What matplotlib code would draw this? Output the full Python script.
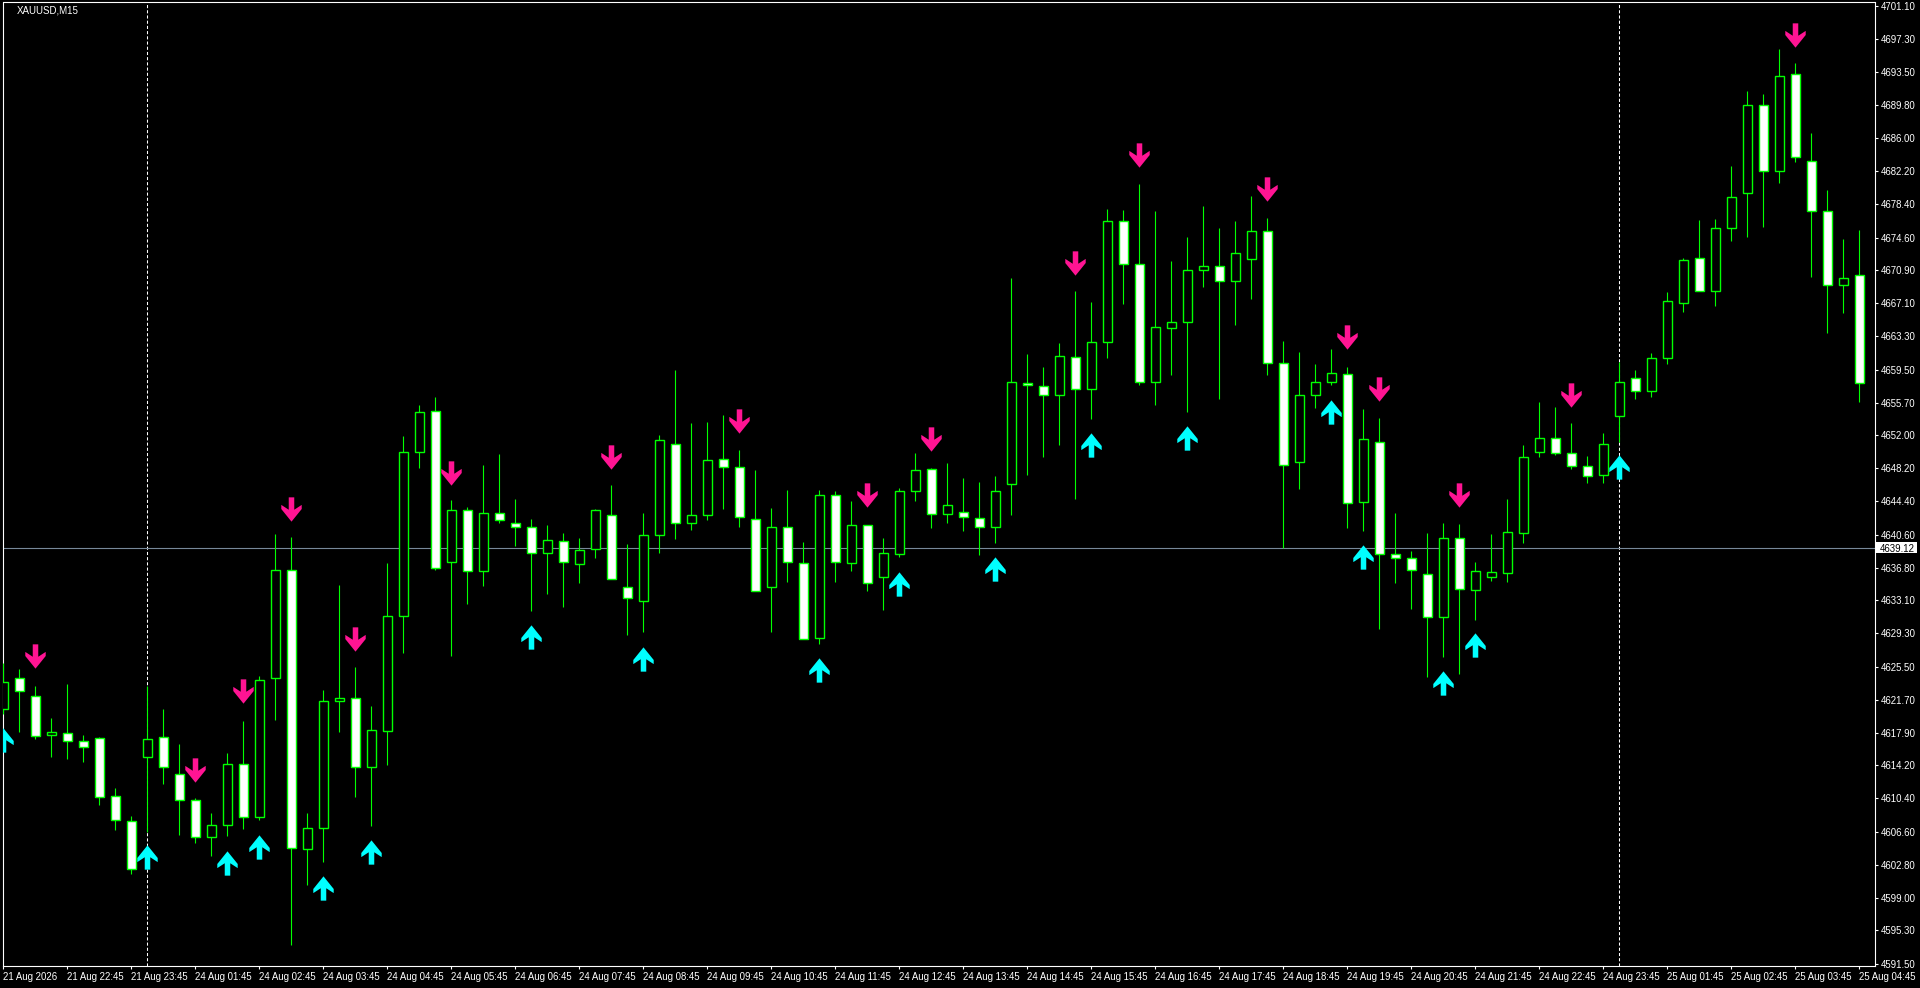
import matplotlib
matplotlib.use('Agg')
import matplotlib.pyplot as plt
import matplotlib.transforms as mtransforms
from matplotlib.path import Path
from matplotlib.patches import Rectangle

plt.rcParams['font.family'] = ['Liberation Sans', 'DejaVu Sans']

symbol = 'XAUUSD,M15'

# M15 candles, bar 0 = 21 Aug 21:45 ... bar 116 = 25 Aug 04:45
opens = [4620.61, 4624.16, 4622.16, 4617.62, 4617.87, 4616.93, 4617.29, 4610.63, 4607.77, 4615.13,
         4617.38, 4613.16, 4610.18, 4605.97, 4607.32, 4614.31, 4608.26, 4624.16, 4636.51, 4604.66,
         4606.99, 4621.50, 4621.87, 4613.98, 4618.07, 4631.24, 4650.00, 4654.78, 4637.41, 4643.46,
         4636.40, 4643.12, 4641.97, 4641.44, 4638.46, 4639.83, 4637.28, 4638.92, 4642.81, 4634.65,
         4632.97, 4640.52, 4650.94, 4641.97, 4642.89, 4649.30, 4648.38, 4642.43, 4634.57, 4641.44,
         4637.32, 4628.73, 4645.10, 4637.32, 4641.67, 4635.71, 4638.35, 4645.56, 4648.08, 4642.92,
         4643.23, 4642.54, 4641.44, 4646.36, 4657.99, 4657.65, 4656.54, 4660.89, 4657.23, 4662.61,
         4676.46, 4671.54, 4658.03, 4664.21, 4664.90, 4670.85, 4671.39, 4669.59, 4672.11, 4675.32,
         4660.21, 4648.88, 4656.54, 4658.03, 4658.95, 4644.30, 4651.17, 4638.35, 4637.89, 4636.06,
         4631.21, 4640.18, 4634.30, 4635.71, 4636.17, 4640.75, 4650.02, 4651.63, 4649.91, 4648.42,
         4647.39, 4654.14, 4658.49, 4657.00, 4660.78, 4667.08, 4672.23, 4668.45, 4675.66, 4679.67,
         4689.74, 4682.19, 4693.29, 4683.33, 4677.61, 4669.14, 4670.28]
highs = [4625.96, 4625.23, 4623.30, 4619.62, 4623.51, 4617.66, 4617.42, 4611.57, 4608.38, 4623.30,
         4620.65, 4616.64, 4610.43, 4608.79, 4615.62, 4619.26, 4624.41, 4640.68, 4640.31, 4608.79,
         4622.81, 4634.83, 4625.43, 4620.97, 4637.37, 4651.92, 4655.40, 4656.39, 4644.56, 4643.75,
         4648.57, 4649.83, 4644.68, 4642.39, 4641.70, 4640.79, 4640.22, 4643.50, 4646.28, 4639.53,
         4643.08, 4652.00, 4659.45, 4653.38, 4653.49, 4654.29, 4650.29, 4648.00, 4643.65, 4645.71,
         4639.76, 4645.71, 4645.60, 4644.45, 4641.67, 4640.22, 4645.94, 4649.95, 4648.27, 4648.80,
         4647.08, 4646.62, 4647.31, 4669.97, 4661.28, 4659.79, 4662.54, 4668.49, 4667.19, 4677.87,
         4677.76, 4680.73, 4677.64, 4671.92, 4674.67, 4678.22, 4675.70, 4676.50, 4679.36, 4676.84,
         4662.73, 4661.50, 4660.13, 4661.81, 4659.75, 4654.98, 4653.95, 4643.04, 4638.70, 4640.79,
         4641.93, 4641.82, 4637.47, 4640.67, 4644.68, 4650.82, 4655.74, 4655.17, 4653.34, 4649.56,
         4652.20, 4660.32, 4659.45, 4661.39, 4668.38, 4672.27, 4676.62, 4676.73, 4682.80, 4691.38,
         4691.04, 4696.19, 4694.59, 4686.54, 4680.01, 4674.44, 4675.47]
lows = [4620.11, 4618.00, 4617.25, 4615.13, 4614.97, 4614.52, 4609.69, 4606.83, 4601.80, 4606.54,
        4612.06, 4606.26, 4605.32, 4603.84, 4606.05, 4606.95, 4607.97, 4619.42, 4593.66, 4600.53,
        4603.15, 4617.99, 4610.51, 4607.28, 4614.27, 4627.06, 4648.24, 4636.59, 4626.74, 4632.71,
        4634.72, 4641.97, 4639.34, 4631.90, 4633.81, 4632.32, 4635.10, 4637.96, 4635.48, 4629.11,
        4629.50, 4638.54, 4640.14, 4641.17, 4642.31, 4643.54, 4641.51, 4634.11, 4629.50, 4635.22,
        4628.62, 4628.12, 4635.22, 4636.48, 4634.19, 4632.01, 4638.08, 4644.49, 4641.40, 4641.97,
        4641.05, 4638.31, 4639.68, 4642.89, 4647.46, 4649.52, 4650.90, 4644.72, 4653.87, 4660.86,
        4667.04, 4657.69, 4655.48, 4658.91, 4654.68, 4668.98, 4656.16, 4664.63, 4667.61, 4658.91,
        4639.07, 4645.86, 4655.13, 4657.77, 4641.40, 4641.05, 4629.76, 4635.03, 4632.10, 4624.34,
        4626.63, 4624.69, 4630.83, 4635.33, 4635.22, 4639.68, 4649.45, 4649.76, 4648.08, 4646.47,
        4646.47, 4651.17, 4656.09, 4656.39, 4660.17, 4666.09, 4668.45, 4666.81, 4674.25, 4674.71,
        4675.86, 4680.89, 4683.29, 4670.13, 4663.72, 4666.01, 4655.82]
closes = [4623.71, 4622.65, 4617.50, 4617.95, 4616.93, 4616.27, 4610.55, 4607.89, 4602.33, 4617.17,
          4613.98, 4610.18, 4605.97, 4607.32, 4614.31, 4608.26, 4623.92, 4636.51, 4604.74, 4606.99,
          4621.50, 4621.87, 4613.98, 4618.19, 4631.24, 4650.00, 4654.58, 4636.80, 4643.46, 4636.39,
          4643.04, 4642.24, 4641.44, 4638.46, 4639.95, 4637.43, 4638.80, 4643.38, 4635.48, 4633.31,
          4640.52, 4651.40, 4641.89, 4642.89, 4649.11, 4648.30, 4642.58, 4634.11, 4641.44, 4637.43,
          4628.62, 4645.10, 4637.43, 4641.67, 4635.03, 4638.46, 4645.56, 4647.96, 4642.93, 4643.95,
          4642.58, 4641.44, 4645.56, 4658.03, 4657.69, 4656.54, 4661.01, 4657.23, 4662.61, 4676.46,
          4671.54, 4658.03, 4664.33, 4664.90, 4670.85, 4671.31, 4669.59, 4672.80, 4675.32, 4660.21,
          4648.53, 4656.54, 4658.03, 4659.06, 4644.18, 4651.51, 4638.35, 4637.89, 4636.50, 4631.21,
          4640.18, 4634.42, 4636.40, 4636.29, 4640.86, 4649.45, 4651.63, 4649.91, 4648.42, 4647.27,
          4650.94, 4658.03, 4657.00, 4660.78, 4667.31, 4672.04, 4668.45, 4675.66, 4679.21, 4689.74,
          4682.19, 4693.06, 4683.79, 4677.61, 4669.14, 4669.94, 4657.92]

# indicator arrows (bar index, price level of arrow centre)
sell_bars = [2, 12, 15, 18, 22, 28, 38, 46, 54, 58, 67, 71, 79, 84, 86, 91, 98, 112]
sell_levels = [4626.66, 4613.70, 4622.65, 4643.58, 4628.70, 4647.60, 4649.53, 4653.57, 4645.10,
               4651.51, 4671.73, 4684.09, 4680.12, 4663.18, 4657.23, 4645.10, 4656.62, 4697.83]
buy_bars = [0, 9, 14, 16, 20, 23, 33, 40, 51, 56, 62, 68, 74, 83, 85, 90, 92, 101]
buy_levels = [4617.13, 4603.64, 4603.03, 4604.87, 4600.17, 4604.25, 4628.85, 4626.40, 4625.07,
              4634.99, 4636.71, 4650.82, 4651.70, 4654.67, 4638.08, 4623.58, 4627.93, 4648.38]

bid = 4639.12
day_separators = [9, 101]

price_ticks = [4701.10, 4697.30, 4693.50, 4689.80, 4686.00, 4682.20, 4678.40, 4674.60, 4670.90,
               4667.10, 4663.30, 4659.50, 4655.70, 4652.00, 4648.20, 4644.40, 4640.60, 4636.80,
               4633.10, 4629.30, 4625.50, 4621.70, 4617.90, 4614.20, 4610.40, 4606.60, 4602.80,
               4599.00, 4595.30, 4591.50]
time_labels = ['21 Aug 2026', '21 Aug 22:45', '21 Aug 23:45', '24 Aug 01:45', '24 Aug 02:45',
               '24 Aug 03:45', '24 Aug 04:45', '24 Aug 05:45', '24 Aug 06:45', '24 Aug 07:45',
               '24 Aug 08:45', '24 Aug 09:45', '24 Aug 10:45', '24 Aug 11:45', '24 Aug 12:45',
               '24 Aug 13:45', '24 Aug 14:45', '24 Aug 15:45', '24 Aug 16:45', '24 Aug 17:45',
               '24 Aug 18:45', '24 Aug 19:45', '24 Aug 20:45', '24 Aug 21:45', '24 Aug 22:45',
               '24 Aug 23:45', '25 Aug 01:45', '25 Aug 02:45', '25 Aug 03:45', '25 Aug 04:45']
time_label_bars = list(range(0, len(opens), 4))

GREEN = '#00ff00'

# arrow glyphs, like the wingdings arrows mt4 uses
sx = 0.84
down_verts = [(-0.27 * sx, 1), (0.27 * sx, 1), (0.27 * sx, -0.02), (1 * sx, 0.38), (1 * sx, 0.04),
              (0, -1), (-1 * sx, 0.04), (-1 * sx, 0.38), (-0.27 * sx, -0.02), (-0.27 * sx, 1)]
down_arrow = Path(down_verts, closed=True)
up_arrow = Path([(x, -y) for x, y in down_verts], closed=True)

fig = plt.figure(figsize=(19.2, 9.88), dpi=100, facecolor='black')
W, H = 1920.0, 988.0
left, right, top, bottom = 2.7, 1875.0, 2.5, 966.0
ax = fig.add_axes([left / W, 1 - bottom / H, (right - left) / W, (bottom - top) / H])
ax.set_facecolor('black')
ax.set_xlim(-0.0375, 116.98)
ax.set_ylim(4591.22, 4701.51)

n = len(opens)
xs = list(range(n))

# candles: wicks first, then bodies (white = bearish, black = bullish)
ax.vlines(xs, lows, highs, colors=GREEN, linewidth=0.8, zorder=3)
bottoms = [min(o, c) for o, c in zip(opens, closes)]
heights = [abs(c - o) for o, c in zip(opens, closes)]
fills = ['white' if c < o else 'black' for o, c in zip(opens, closes)]
ax.bar(xs, heights, bottom=bottoms, width=0.6, color=fills, edgecolor=GREEN,
       linewidth=1.0, zorder=4)

ax.plot(sell_bars, sell_levels, linestyle='none', marker=down_arrow, markersize=17.5,
        markerfacecolor='#ff1493', markeredgecolor='none', zorder=5)
ax.plot(buy_bars, buy_levels, linestyle='none', marker=up_arrow, markersize=17.5,
        markerfacecolor='#00ffff', markeredgecolor='none', zorder=5)

# bid line and day separators
ax.axhline(bid, color='#778899', linewidth=0.8, zorder=2)
for b in day_separators:
    ax.axvline(b, color='white', linewidth=0.75, linestyle=(0, (3, 2)), zorder=1)

for s in ax.spines.values():
    s.set_color('white')
    s.set_linewidth(0.8)

ax.yaxis.tick_right()
ax.set_yticks(price_ticks)
ax.set_yticklabels(['%.2f' % p for p in price_ticks])
ax.tick_params(axis='y', which='both', right=True, left=False, length=2.2, width=0.8,
               colors='white', labelcolor='white', labelsize=6.9, pad=2)

ax.set_xticks(time_label_bars)
ax.set_xticklabels(time_labels)
ax.tick_params(axis='x', length=2.5, width=0.8, colors='white', labelcolor='white',
               labelsize=6.9, pad=2)
for lbl in ax.get_xticklabels():
    lbl.set_ha('left')

# price box on the scale
trans = mtransforms.blended_transform_factory(ax.transAxes, ax.transData)
box_w = 42.0 / (right - left)
ax.add_patch(Rectangle((1.0, bid - 0.62), box_w, 1.24, transform=trans, facecolor='white',
                       edgecolor='none', clip_on=False, zorder=6))
ax.text(1.0 + 4.5 / (right - left), bid, '%.2f' % bid, transform=trans, color='black',
        fontsize=6.9, ha='left', va='center_baseline', zorder=7, clip_on=False)

fig.text(17.0 / W, 1 - 10.7 / H, symbol, color='white', fontsize=7.0, ha='left', va='center')

fig.savefig('out.png', dpi=100, facecolor='black')
